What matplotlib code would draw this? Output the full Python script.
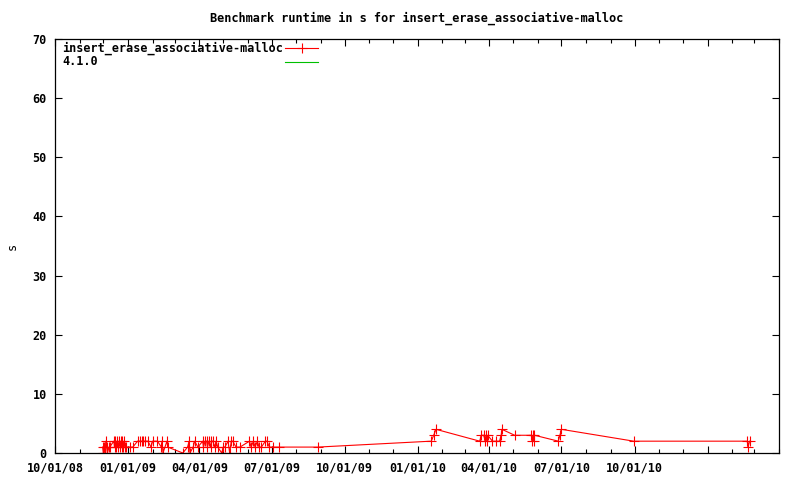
import numpy as np
import pandas as pd
import matplotlib
matplotlib.use('Agg')
import matplotlib.pyplot as plt
import matplotlib.dates as mdates

# runtime samples (date, seconds)
dates = [
    '2008-11-30', '2008-12-01', '2008-12-02', '2008-12-03', '2008-12-04', '2008-12-05',
    '2008-12-06', '2008-12-08', '2008-12-09', '2008-12-14', '2008-12-15', '2008-12-16',
    '2008-12-17', '2008-12-18', '2008-12-19', '2008-12-21', '2008-12-22', '2008-12-23',
    '2008-12-24', '2008-12-25', '2008-12-26', '2008-12-27', '2008-12-28', '2008-12-30',
    '2009-01-03', '2009-01-07', '2009-01-13', '2009-01-16', '2009-01-18', '2009-01-20',
    '2009-01-22', '2009-01-26', '2009-01-30', '2009-02-01', '2009-02-07', '2009-02-12',
    '2009-02-13', '2009-02-14', '2009-02-19', '2009-02-20', '2009-03-11',
    '2009-03-17', '2009-03-19', '2009-03-20', '2009-03-24', '2009-03-26', '2009-03-30',
    '2009-04-05', '2009-04-06', '2009-04-08', '2009-04-10', '2009-04-11', '2009-04-13',
    '2009-04-15', '2009-04-16', '2009-04-18', '2009-04-20', '2009-04-22', '2009-04-24',
    '2009-04-29', '2009-05-01', '2009-05-03', '2009-05-07', '2009-05-09', '2009-05-11',
    '2009-05-13', '2009-05-17', '2009-05-22',
    '2009-06-03', '2009-06-05', '2009-06-08', '2009-06-10', '2009-06-13', '2009-06-15',
    '2009-06-18', '2009-06-23', '2009-06-25', '2009-06-28', '2009-07-02', '2009-07-10',
    '2009-08-28',
    '2010-01-18', '2010-01-21', '2010-01-24', '2010-03-20', '2010-03-22', '2010-03-25',
    '2010-03-27', '2010-03-28', '2010-03-29', '2010-03-30', '2010-04-05', '2010-04-10',
    '2010-04-14', '2010-04-16', '2010-04-17', '2010-05-03', '2010-05-24', '2010-05-25',
    '2010-05-26', '2010-05-27', '2010-05-28', '2010-06-27', '2010-06-29', '2010-07-01',
    '2010-09-30', '2011-02-20', '2011-02-21', '2011-02-23',
]
runtimes = [
    1, 0, 1, 0, 2, 1,
    0, 1, 1, 2, 1, 2,
    1, 2, 1, 2, 1, 2,
    1, 2, 1, 2, 1, 1,
    1, 1, 2, 2, 2, 2,
    2, 2, 1, 2, 2, 1,
    2, 0, 2, 1, 0,
    1, 2, 0, 1, 2, 1,
    2, 1, 2, 2, 1, 2,
    1, 2, 2, 1, 2, 1,
    0, 1, 1, 2, 0, 2,
    2, 1, 1,
    2, 1, 2, 1, 2, 1,
    1, 2, 2, 1, 1, 1,
    1,
    2, 3, 4, 2, 3, 3,
    2, 3, 2, 3, 2, 2,
    2, 3, 4, 3, 3, 2,
    3, 2, 3, 2, 3, 4,
    2, 2, 1, 2,
]

series_name = 'insert_erase_associative-malloc'
version_name = '4.1.0'

x_start, x_end = '2008-10-01', '2011-04-01'
tick_dates = ['2008-10-01', '2009-01-01', '2009-04-01', '2009-07-01', '2009-10-01',
              '2010-01-01', '2010-04-01', '2010-07-01', '2010-10-01', '2011-01-01']
tick_labels = ['10/01/08', '01/01/09', '04/01/09', '07/01/09', '10/01/09',
               '01/01/10', '04/01/10', '07/01/10', '10/01/10', '']
y_ticks = [0, 10, 20, 30, 40, 50, 60, 70]

plt.rcParams['font.family'] = ['DejaVu Sans Mono']
plt.rcParams['font.weight'] = 'bold'
plt.rcParams['font.size'] = 8.5

W, H = 800, 480
fig = plt.figure(figsize=(8, 4.8), dpi=100)
ax = fig.add_axes([55 / W, 1 - 453 / H, 724 / W, 414 / H])

x = pd.to_datetime(dates)
ax.plot(x, runtimes, color='#ff0000', lw=0.8, marker='+', ms=7, mew=0.8)

ax.set_xlim(pd.Timestamp(x_start), pd.Timestamp(x_end))
ax.set_ylim(0, 70)
ax.set_xticks(pd.to_datetime(tick_dates))
ax.set_xticklabels(tick_labels)
ax.xaxis.set_minor_locator(mdates.MonthLocator())
ax.set_yticks(y_ticks)

ax.tick_params(direction='in', which='both', top=True, right=True, width=0.8)
ax.tick_params(which='major', length=5)
ax.tick_params(which='minor', length=3)
ax.tick_params(axis='x', pad=6)
ax.tick_params(axis='y', pad=6)
for s in ax.spines.values():
    s.set_linewidth(0.9)

ax.set_ylabel('s')
ax.yaxis.set_label_coords(-36 / 724, 0.5)
fig.suptitle('Benchmark runtime in s for insert_erase_associative-malloc',
             x=(55 + 362) / W, y=1 - 18 / H, va='center', fontsize=8.6,
             fontweight='bold')

# gnuplot-style key: text on the left, line sample on the right
def axfrac(px, py):
    return (px - 55) / 724, (453 - py) / 414

for label, color, marker, py in [(series_name, '#ff0000', '+', 48),
                                 (version_name, '#00c000', None, 62)]:
    tx, ty = axfrac(62, py)
    ax.text(tx, ty, label, transform=ax.transAxes, ha='left', va='center')
    x0, y0 = axfrac(285, py)
    x1, _ = axfrac(318, py)
    ax.plot([x0, x1], [y0, y0], color=color, lw=0.8, transform=ax.transAxes,
            clip_on=False)
    if marker:
        ax.plot([(x0 + x1) / 2], [y0], color=color, marker=marker, ms=7, mew=0.8,
                transform=ax.transAxes, clip_on=False)

fig.savefig('out.png', dpi=100)
